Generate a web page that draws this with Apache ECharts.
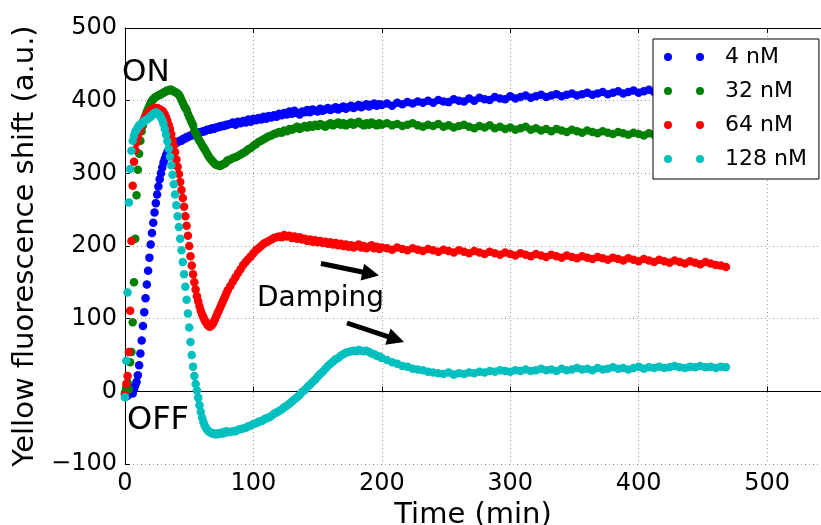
<!DOCTYPE html>
<html><head><meta charset="utf-8">
<script src="https://cdn.jsdelivr.net/npm/echarts@6/dist/echarts.min.js"></script>
<style>html,body{margin:0;padding:0;background:#fff}#c{width:821px;height:525px}</style>
</head><body><div id="c"></div>
<script>
// ---- data ----
const seriesNames = ['4 nM', '32 nM', '64 nM', '128 nM'];
const seriesColors = ['#0000ff', '#008000', '#ff0000', '#00bfbf'];
const xTicks = [0, 100, 200, 300, 400, 500];
const yTicks = [-100, 0, 100, 200, 300, 400, 500];

const time = [
  0, 1, 2, 3, 4, 5, 6, 7, 8,
  9, 10, 11, 12, 13, 14, 15, 16, 17,
  18, 19, 20, 21, 22, 23, 24, 25, 26,
  27, 28, 29, 30, 31, 32, 33, 34, 35,
  36, 37, 38, 39, 40, 41, 42, 43, 44,
  45, 46, 47, 48, 49, 50, 51, 52, 53,
  54, 55, 56, 57, 58, 59, 60, 61, 62,
  63, 64, 65, 66, 67, 68, 69, 70, 71,
  72, 73, 74, 75, 76, 77, 78, 79, 80,
  82, 84, 86, 88, 90, 92, 94, 96, 98, 100,
  102, 104, 106, 108, 110, 112, 114, 116, 118, 120,
  122, 124, 126, 128, 130, 132, 134, 136, 138, 140,
  142, 144, 146, 148, 150, 152, 154, 156, 158, 160,
  162, 164, 166, 168, 170, 172, 174, 176, 178, 180,
  182, 184, 186, 188, 190, 192, 194, 196, 198, 200,
  204, 208, 212, 216, 220, 224, 228, 232,
  236, 240, 244, 248, 252, 256, 260, 264,
  268, 272, 276, 280, 284, 288, 292, 296,
  300, 304, 308, 312, 316, 320, 324, 328,
  332, 336, 340, 344, 348, 352, 356, 360,
  364, 368, 372, 376, 380, 384, 388, 392,
  396, 400, 404, 408, 412, 416, 420, 424,
  428, 432, 436, 440, 444, 448, 452, 456,
  460, 464, 468
];

const nM4 = [
  -4, 2, -6, 4, -2, 5, -3, 3, 8,
  13, 22, 36, 52, 70, 90, 109, 128, 147,
  166, 184, 202, 218, 232, 246, 259, 271, 282,
  292, 300, 308, 315, 320, 325, 329, 332, 334,
  336, 338, 339, 341, 342, 343, 344, 345, 345,
  347, 348, 348, 350, 350, 351, 352, 352, 353,
  354, 354, 355, 356, 356, 357, 357, 358, 358,
  359, 360, 360, 360, 361, 362, 361, 362, 363,
  363, 364, 364, 365, 365, 365, 366, 367, 367,
  368, 370, 367, 371, 369, 372, 370, 374, 371, 375,
  373, 376, 374, 378, 375, 379, 377, 380, 378, 382,
  380, 383, 381, 385, 382, 386, 383, 381, 385, 384,
  387, 384, 388, 386, 385, 389, 386, 388, 390, 387,
  389, 391, 388, 390, 392, 389, 391, 393, 390, 392,
  394, 391, 393, 395, 392, 394, 396, 393, 395, 394,
  396, 393, 397, 395, 398, 396, 399, 397,
  400, 397, 401, 399, 398, 402, 400, 399,
  403, 400, 404, 402, 401, 405, 403, 402,
  406, 403, 405, 407, 404, 406, 408, 405,
  407, 409, 406, 408, 410, 407, 409, 411,
  408, 410, 412, 409, 411, 413, 410, 412,
  414, 411, 413, 415, 412, 414, 416, 413,
  415, 417, 414, 416, 415, 417, 416, 418,
  416, 418, 417
];

const nM32 = [
  -2, 5, 12, 3, 40, 54, 95, 150, 210,
  270, 305, 327, 345, 358, 366, 373, 380, 385,
  389, 393, 397, 400, 402, 404, 405, 406, 407,
  408, 409, 410, 411, 412, 413, 414, 414, 415,
  415, 414, 413, 412, 411, 410, 408, 405, 401,
  397, 393, 390, 387, 382, 378, 374, 370, 366,
  359, 356, 352, 348, 345, 342, 339, 336, 333,
  330, 327, 324, 321, 319, 317, 315, 313, 312,
  311, 311, 310, 311, 312, 313, 314, 316, 318,
  319, 321, 322, 324, 326, 328, 330, 333, 335, 338,
  340, 343, 345, 347, 349, 351, 352, 354, 355, 357,
  356, 359, 358, 361, 360, 362, 364, 361, 363, 365,
  363, 366, 364, 367, 365, 368, 366, 364, 367, 369,
  366, 368, 370, 367, 369, 366, 368, 370, 367, 369,
  371, 368, 366, 369, 367, 370, 368, 366, 369, 367,
  369, 366, 368, 365, 367, 369, 366, 364,
  367, 365, 368, 364, 366, 363, 365, 367,
  364, 362, 365, 363, 366, 362, 364, 361,
  363, 360, 362, 364, 360, 362, 359, 361,
  358, 361, 359, 357, 360, 358, 356, 359,
  357, 355, 358, 356, 354, 357, 355, 353,
  356, 354, 352, 355, 353, 351, 354, 352,
  350, 353, 351, 349, 352, 350, 348, 351,
  349, 347, 348
];

const nM64 = [
  -5, 10, 21, 54, 111, 207, 283, 316, 332,
  342, 350, 357, 362, 367, 371, 375, 378, 381,
  383, 385, 387, 388, 389, 390, 390, 390, 389,
  388, 387, 386, 384, 381, 377, 372, 367, 361,
  354, 346, 338, 329, 319, 309, 299, 288, 277,
  266, 254, 241, 228, 214, 200, 186, 173, 161,
  150, 140, 131, 124, 117, 111, 106, 102, 98,
  95, 92, 90, 89, 90, 92, 95, 99, 103,
  107, 111, 115, 119, 123, 127, 131, 135, 139,
  145, 151, 157, 163, 168, 174, 178, 182, 186, 190,
  194, 197, 200, 203, 205, 207, 209, 211, 212, 213,
  212, 215, 213, 214, 211, 213, 210, 212, 209, 210,
  207, 209, 206, 208, 205, 207, 204, 206, 203, 205,
  202, 204, 201, 203, 200, 202, 199, 201, 198, 200,
  202, 198, 200, 197, 199, 201, 197, 199, 196, 198,
  197, 195, 198, 196, 194, 197, 195, 193,
  196, 194, 192, 195, 193, 191, 194, 192,
  190, 193, 191, 189, 192, 190, 188, 191,
  189, 187, 190, 188, 186, 189, 187, 185,
  188, 186, 184, 187, 185, 183, 186, 184,
  182, 185, 183, 181, 184, 182, 180, 183,
  181, 179, 182, 180, 178, 181, 179, 177,
  180, 178, 176, 179, 177, 175, 178, 176,
  174, 173, 171
];

const nM128 = [
  -8, 42, 136, 260, 306, 331, 345, 352, 357,
  360, 363, 366, 367, 369, 370, 372, 373, 374,
  375, 377, 378, 380, 382, 383, 384, 383, 381,
  380, 377, 373, 368, 361, 353, 344, 334, 323,
  311, 298, 285, 271, 256, 241, 226, 210, 194,
  178, 161, 144, 126, 107, 88, 68, 50, 34,
  21, 10, 1, -9, -19, -28, -36, -42, -47,
  -50, -53, -55, -56, -57, -58, -58, -59, -58,
  -59, -58, -58, -57, -58, -56, -57, -55, -56,
  -56, -55, -55, -53, -52, -51, -50, -48, -47, -45,
  -44, -42, -41, -39, -37, -36, -34, -31, -29, -27,
  -25, -22, -20, -17, -14, -11, -8, -5, -1, 2,
  6, 9, 13, 16, 20, 24, 27, 31, 35, 38,
  41, 44, 46, 49, 51, 53, 54, 55, 56, 55,
  57, 56, 55, 56, 54, 52, 51, 49, 48, 46,
  43, 40, 38, 35, 34, 31, 30, 29,
  27, 26, 25, 24, 26, 23, 25, 24,
  26, 25, 27, 26, 28, 27, 29, 28,
  27, 29, 28, 30, 28, 29, 31, 29,
  30, 28, 31, 29, 30, 32, 30, 31,
  29, 32, 30, 31, 33, 31, 32, 30,
  32, 34, 31, 33, 32, 34, 32, 33,
  35, 33, 32, 34, 33, 35, 33, 34,
  32, 34, 33
];

const seriesValues = [nM4, nM32, nM64, nM128];

// ---- chart ----
const FONT = '"DejaVu Sans", "Liberation Sans", sans-serif';
const chart = echarts.init(document.getElementById('c'), null, {renderer: 'canvas'});

function arrowPts(sx, sy, ex, ey, w, hl, hw) {
  const dx = ex - sx, dy = ey - sy, L = Math.hypot(dx, dy);
  const ux = dx / L, uy = dy / L, nx = -uy, ny = ux;
  const bx = ex - ux * hl, by = ey - uy * hl;
  return [
    [sx + nx * w / 2, sy + ny * w / 2],
    [bx + nx * w / 2, by + ny * w / 2],
    [bx + nx * hw / 2, by + ny * hw / 2],
    [ex, ey],
    [bx - nx * hw / 2, by - ny * hw / 2],
    [bx - nx * w / 2, by - ny * w / 2],
    [sx - nx * w / 2, sy - ny * w / 2]
  ];
}

const fmtY = v => (v < 0 ? '\u2212' + Math.abs(v) : String(v));
const axisLineStyle = {color: '#000', width: 1};
const gridLine = {show: true, lineStyle: {color: '#999', width: 1, type: [1, 3]}};

const option = {
  animation: false,
  backgroundColor: '#fff',
  textStyle: {fontFamily: FONT},
  grid: {left: 125, right: 0, top: 28, bottom: 61, containLabel: false, outerBoundsMode: 'none'},
  xAxis: [{
    type: 'value', min: xTicks[0], max: 542, interval: xTicks[1] - xTicks[0], position: 'bottom',
    axisLine: {show: true, lineStyle: axisLineStyle},
    axisTick: {show: true, inside: true, length: 5, lineStyle: axisLineStyle},
    axisLabel: {fontSize: 24, color: '#000', margin: 8, fontFamily: FONT, showMaxLabel: false,
      formatter: v => (xTicks.includes(v) ? String(v) : '')},
    splitLine: gridLine,
    name: 'Time (min)', nameLocation: 'middle', nameGap: 31,
    nameTextStyle: {fontSize: 29, color: '#000', fontFamily: FONT}
  }, {
    type: 'value', min: xTicks[0], max: 542, interval: xTicks[1] - xTicks[0], position: 'top',
    axisLine: {show: true, onZero: false, lineStyle: axisLineStyle},
    axisTick: {show: true, inside: true, length: 5, lineStyle: axisLineStyle},
    axisLabel: {show: false}, splitLine: {show: false}
  }],
  yAxis: [{
    type: 'value', min: yTicks[0], max: yTicks[yTicks.length - 1], interval: yTicks[1] - yTicks[0],
    axisLine: {show: true, onZero: false, lineStyle: axisLineStyle},
    axisTick: {show: true, inside: true, length: 5, lineStyle: axisLineStyle},
    axisLabel: {fontSize: 24, color: '#000', margin: 8, fontFamily: FONT, formatter: fmtY},
    splitLine: gridLine,
    name: 'Yellow fluorescence shift (a.u.)', nameLocation: 'middle', nameGap: 80,
    nameTextStyle: {fontSize: 29, color: '#000', fontFamily: FONT}
  }],
  legend: {
    data: seriesNames, orient: 'vertical', left: 653, top: 39,
    padding: [6, 12, 8, 11], itemGap: 10, itemWidth: 40, itemHeight: 8,
    icon: 'path://M0,4A4,4 0 1 1 8,4A4,4 0 1 1 0,4ZM32,4A4,4 0 1 1 40,4A4,4 0 1 1 32,4Z',
    backgroundColor: '#fff', borderColor: '#000', borderWidth: 1, borderRadius: 0,
    selectedMode: false, z: 20,
    textStyle: {fontSize: 22, color: '#000', fontFamily: FONT, lineHeight: 24, padding: [0, 0, 0, 16]}
  },
  series: seriesNames.map((name, k) => ({
    name, type: 'scatter', xAxisIndex: 0, yAxisIndex: 0,
    symbol: 'circle', symbolSize: 8.5,
    itemStyle: {color: seriesColors[k], opacity: 1},
    emphasis: {disabled: true},
    data: time.map((t, i) => [t, seriesValues[k][i]]),
    z: 2 + k
  })),
  graphic: [
    {type: 'text', x: 122, y: 73, z: 50, style: {text: 'ON', fontSize: 31, fontFamily: FONT, fill: '#000', align: 'left', verticalAlign: 'middle'}},
    {type: 'text', x: 127, y: 421, z: 50, style: {text: 'OFF', fontSize: 32, fontFamily: FONT, fill: '#000', align: 'left', verticalAlign: 'middle'}},
    {type: 'text', x: 257, y: 299, z: 50, style: {text: 'Damping', fontSize: 28, fontFamily: FONT, fill: '#000', align: 'left', verticalAlign: 'middle'}},
    {type: 'polygon', z: 50, shape: {points: arrowPts(321, 263.5, 379, 275.5, 5, 17, 17)}, style: {fill: '#000'}},
    {type: 'polygon', z: 50, shape: {points: arrowPts(347, 323, 404, 342, 5, 17, 17)}, style: {fill: '#000'}}
  ]
};
chart.setOption(option);
</script>
</body></html>
